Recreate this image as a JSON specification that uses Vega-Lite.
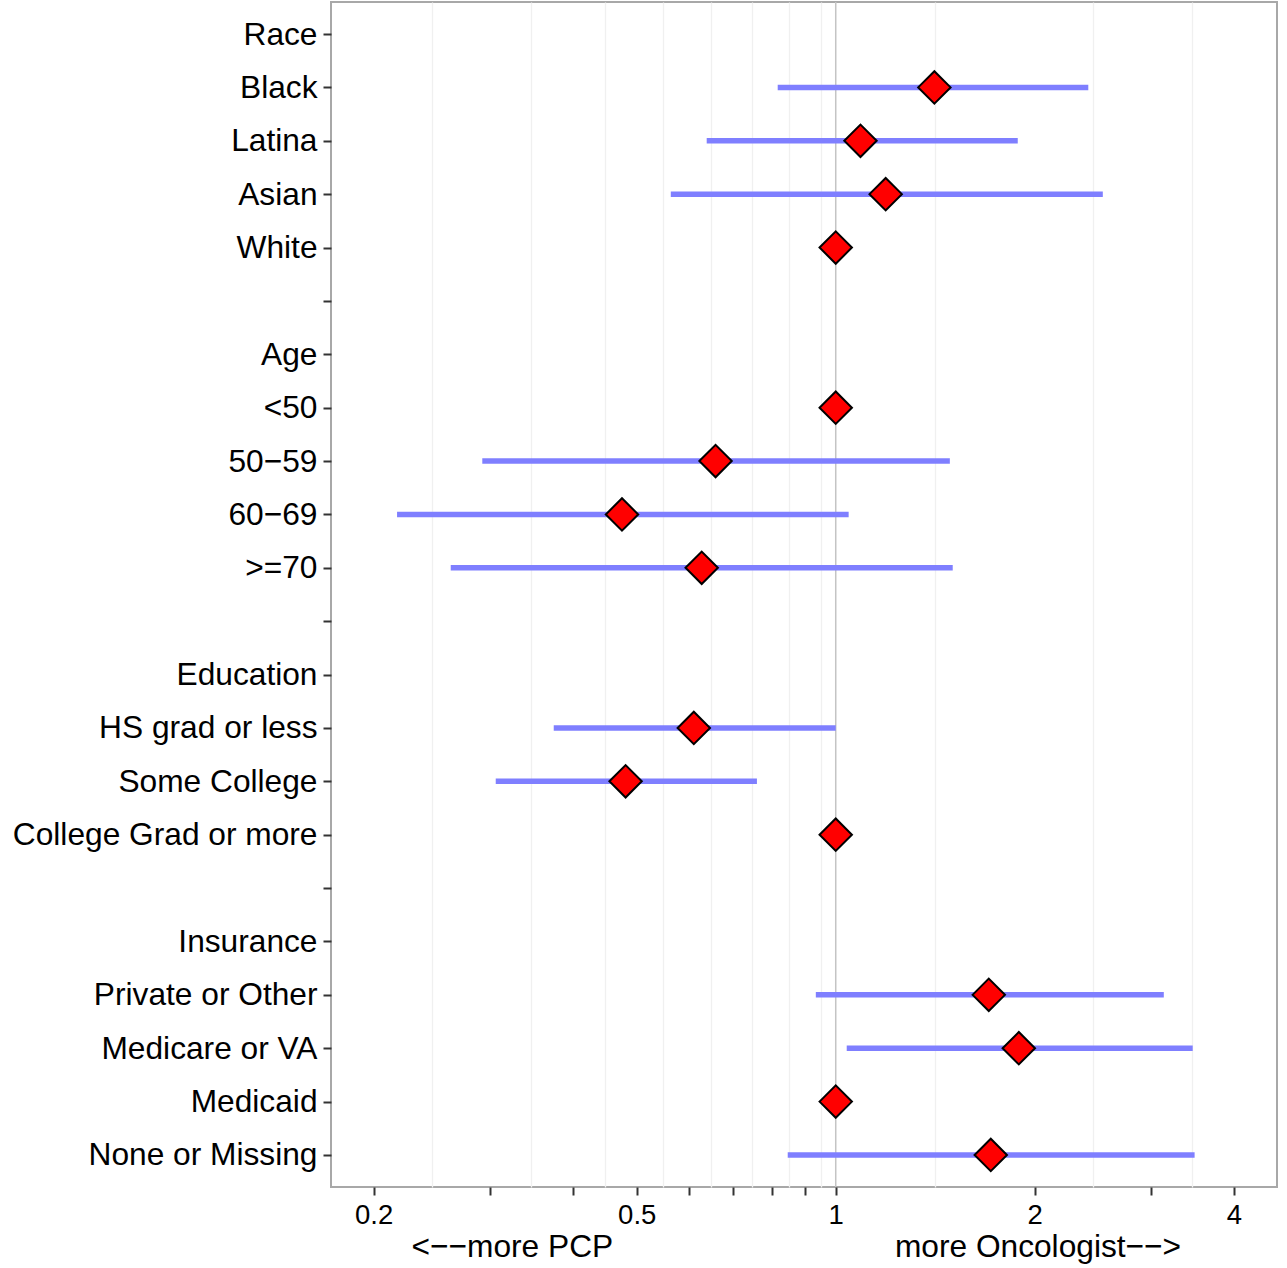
{
  "$schema": "https://vega.github.io/schema/vega-lite/v6.json",
  "width": 946,
  "height": 1185,
  "padding": {"left": 12, "top": 1, "right": 10, "bottom": 10},
  "background": "white",
  "config": {
    "font": "Liberation Sans",
    "view": {"stroke": "#a8a8a8", "strokeWidth": 2}
  },
  "data": {
    "values": [
      {"row": "Race", "or": null, "lo": null, "hi": null},
      {"row": "Black", "or": 1.41, "lo": 0.817, "hi": 2.41},
      {"row": "Latina", "or": 1.09, "lo": 0.638, "hi": 1.885},
      {"row": "Asian", "or": 1.19, "lo": 0.563, "hi": 2.535},
      {"row": "White", "or": 1, "lo": null, "hi": null},
      {"row": "gap1", "or": null, "lo": null, "hi": null},
      {"row": "Age", "or": null, "lo": null, "hi": null},
      {"row": "<50", "or": 1, "lo": null, "hi": null},
      {"row": "50−59", "or": 0.658, "lo": 0.292, "hi": 1.488},
      {"row": "60−69", "or": 0.475, "lo": 0.217, "hi": 1.046},
      {"row": ">=70", "or": 0.627, "lo": 0.2616, "hi": 1.503},
      {"row": "gap2", "or": null, "lo": null, "hi": null},
      {"row": "Education", "or": null, "lo": null, "hi": null},
      {"row": "HS grad or less", "or": 0.61, "lo": 0.3745, "hi": 1.0},
      {"row": "Some College", "or": 0.481, "lo": 0.306, "hi": 0.76},
      {"row": "College Grad or more", "or": 1, "lo": null, "hi": null},
      {"row": "gap3", "or": null, "lo": null, "hi": null},
      {"row": "Insurance", "or": null, "lo": null, "hi": null},
      {"row": "Private or Other", "or": 1.704, "lo": 0.933, "hi": 3.135},
      {"row": "Medicare or VA", "or": 1.892, "lo": 1.039, "hi": 3.467},
      {"row": "Medicaid", "or": 1, "lo": null, "hi": null},
      {"row": "None or Missing", "or": 1.716, "lo": 0.846, "hi": 3.49}
    ]
  },
  "layer": [
    {
      "transform": [{"filter": "datum.row == 'Race'"}],
      "mark": {"type": "rule", "color": "#c4c4c4", "strokeWidth": 1.5},
      "encoding": {
        "x": {
          "datum": 1,
          "type": "quantitative",
          "scale": {"type": "log", "domain": [0.1724, 4.65], "nice": false, "zero": false},
          "axis": {
            "values": [0.2, 0.2449, 0.3, 0.3464, 0.4, 0.4472, 0.5, 0.5477, 0.6, 0.6481, 0.7, 0.7483, 0.8, 0.8485, 0.9, 0.9487, 1, 1.4142, 2, 2.4495, 3, 3.4641, 4],
            "labelExpr": "datum.value == 0.2 ? '0.2' : datum.value == 0.5 ? '0.5' : datum.value == 1 ? '1' : datum.value == 2 ? '2' : datum.value == 4 ? '4' : ''",
            "labelOverlap": false,
            "labelFlush": false,
            "labelFontSize": 27.5,
            "labelColor": "black",
            "labelPadding": 6,
            "domain": false,
            "grid": true,
            "gridColor": "#f0f0f0",
            "gridWidth": 1.3,
            "gridOpacity": {"condition": {"test": "indexof([0.2449, 0.3464, 0.4472, 0.5477, 0.6481, 0.7483, 0.8485, 0.9487, 1.4142, 2.4495, 3.4641], datum.value) >= 0", "value": 1}, "value": 0},
            "tickOpacity": {"condition": {"test": "indexof([0.2449, 0.3464, 0.4472, 0.5477, 0.6481, 0.7483, 0.8485, 0.9487, 1.4142, 2.4495, 3.4641], datum.value) >= 0", "value": 0}, "value": 1},
            "tickSize": 8,
            "tickWidth": 2,
            "tickColor": "#333333",
            "title": "<−−more PCP\u00a0\u00a0\u00a0\u00a0\u00a0\u00a0\u00a0\u00a0\u00a0\u00a0\u00a0\u00a0\u00a0\u00a0\u00a0\u00a0\u00a0\u00a0\u00a0\u00a0\u00a0\u00a0\u00a0\u00a0\u00a0\u00a0\u00a0\u00a0\u00a0\u00a0\u00a0\u00a0more Oncologist−−>",
            "titleFontSize": 31.7,
            "titleFontWeight": "normal",
            "titleColor": "black",
            "titleAnchor": "start",
            "titleAlign": "left",
            "titleX": 80,
            "titlePadding": 3
          }
        }
      }
    },
    {
      "transform": [{"filter": "datum.lo != null"}],
      "mark": {"type": "rule", "color": "#7f7fff", "strokeWidth": 5.5},
      "encoding": {
        "y": {
          "field": "row",
          "type": "nominal",
          "scale": {
            "type": "point",
            "padding": 0.6,
            "domain": ["Race", "Black", "Latina", "Asian", "White", "gap1", "Age", "<50", "50−59", "60−69", ">=70", "gap2", "Education", "HS grad or less", "Some College", "College Grad or more", "gap3", "Insurance", "Private or Other", "Medicare or VA", "Medicaid", "None or Missing"]
          },
          "axis": {
            "title": null,
            "domain": false,
            "grid": false,
            "labelExpr": "indexof(datum.value, 'gap') == 0 ? '' : datum.value",
            "labelFontSize": 31.7,
            "labelColor": "black",
            "labelPadding": 6,
            "labelLimit": 0,
            "tickSize": 8,
            "tickWidth": 2,
            "tickColor": "#333333"
          }
        },
        "x": {"field": "lo", "type": "quantitative"},
        "x2": {"field": "hi"}
      }
    },
    {
      "transform": [{"filter": "datum.or != null"}],
      "mark": {"type": "point", "shape": "diamond", "size": 1050, "filled": true, "fill": "#ff0000", "stroke": "black", "strokeWidth": 2, "opacity": 1},
      "encoding": {
        "y": {"field": "row", "type": "nominal"},
        "x": {"field": "or", "type": "quantitative"}
      }
    }
  ]
}
